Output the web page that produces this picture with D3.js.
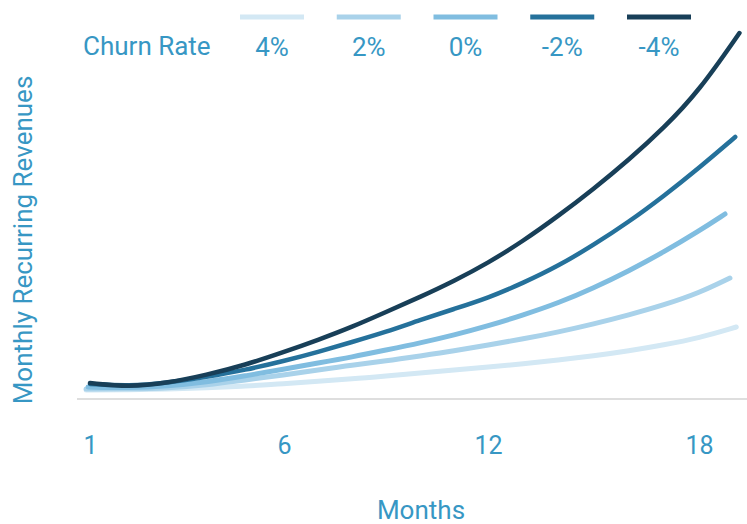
<!DOCTYPE html>
<html>
<head>
<meta charset="utf-8">
<script src="https://cdn.jsdelivr.net/npm/d3@7"></script>
<style>
  body { margin: 0; background: #fff; }
  text { font-family: Roboto, "Noto Sans", sans-serif; fill: #3797c4; }
</style>
</head>
<body>
<svg></svg>
<script>
// month axis
const monthTicks = [1, 6, 12, 18];

// churn rate scenarios (legend order)
const churnLabels = ["4%", "2%", "0%", "-2%", "-4%"];
const churnColors = ["#d3e8f4", "#a9d2ea", "#80bde0", "#25719b", "#183f58"];

// MRR index, months 1..18 plus the last drawn point
const months = [1, 2, 3, 4, 5, 6, 7, 8, 9, 10, 11, 12, 13, 14, 15, 16, 17, 18];
const mrr4 = [9, 9, 10, 11, 13, 15, 18, 20, 23, 26, 29, 32, 35, 39, 43, 48, 54, 61];
const mrr2 = [10, 10, 11, 14, 19, 24, 29, 34, 38, 43, 48, 54, 60, 67, 75, 84, 94, 106];
const mrr0 = [12, 11, 13, 17, 23, 30, 36, 42, 49, 56, 64, 73, 84, 96, 111, 128, 147, 168];
const mrrM2 = [15, 13, 16, 22, 29, 38, 47, 57, 67, 79, 90, 101, 116, 133, 154, 177, 203, 231];
const mrrM4 = [16, 12, 16, 24, 34, 47, 59, 72, 87, 102, 118, 136, 158, 183, 210, 239, 271, 308];
const lastMonth = [19.06, 18.88, 18.74, 19.03, 19.15];
const lastMrr = [72, 121, 185, 262, 366];
const firstMonth = [0.9, 0.9, 0.95, 1, 1];

const series = [mrr4, mrr2, mrr0, mrrM2, mrrM4];

const W = 747, H = 524;
const svg = d3.select("svg").attr("width", W).attr("height", H);

const baseY = 399;

const x = d3.scaleLinear()
  .domain(monthTicks)
  .range([90, 284, 488, 699]);

const y = d3.scaleLinear()
  .domain([0, 370])
  .range([baseY, 29]);

// baseline
svg.append("line")
  .attr("x1", 77).attr("x2", W)
  .attr("y1", baseY).attr("y2", baseY)
  .style("stroke", "#dedede")
  .style("stroke-width", 2);

// x axis labels
const xAxis = svg.append("g")
  .attr("transform", `translate(0,${baseY})`)
  .call(d3.axisBottom(x).tickValues(monthTicks).tickSize(0).tickPadding(37).tickFormat(d3.format("d")));
xAxis.select(".domain").remove();
xAxis.selectAll("text")
  .style("font-size", "25px")
  .style("font-family", "Roboto, sans-serif")
  .attr("fill", "#3797c4");

const line = d3.line()
  .x(d => x(d[0]))
  .y(d => y(d[1]))
  .curve(d3.curveBasis);

series.forEach((vals, i) => {
  const pts = months.map((m, j) => [m, vals[j]]);
  pts[0][0] = firstMonth[i];
  pts.push([lastMonth[i], lastMrr[i]]);
  svg.append("path")
    .datum(pts)
    .attr("fill", "none")
    .attr("stroke", churnColors[i])
    .attr("stroke-width", i < 3 ? 5 : 4.5)
    .attr("stroke-linecap", "round")
    .attr("d", line);
});

// legend
const legendX = d3.scalePoint()
  .domain(churnLabels)
  .range([272, 659]);

svg.append("text")
  .attr("x", 83).attr("y", 55)
  .style("font-size", "26px")
  .text("Churn Rate");

const leg = svg.selectAll(".leg")
  .data(churnLabels)
  .enter().append("g")
  .attr("class", "leg")
  .attr("transform", d => `translate(${legendX(d)},0)`);

leg.append("line")
  .attr("x1", -32).attr("x2", 32)
  .attr("y1", 17).attr("y2", 17)
  .attr("stroke", (d, i) => churnColors[i])
  .attr("stroke-width", 5);

leg.append("text")
  .attr("y", 56)
  .attr("text-anchor", "middle")
  .style("font-size", "26px")
  .text(d => d);

// axis titles
svg.append("text")
  .attr("x", 421).attr("y", 519)
  .attr("text-anchor", "middle")
  .style("font-size", "26px")
  .text("Months");

svg.append("text")
  .attr("transform", "rotate(-90)")
  .attr("x", -240).attr("y", 32)
  .attr("text-anchor", "middle")
  .style("font-size", "26px")
  .text("Monthly Recurring Revenues");
</script>
</body>
</html>
